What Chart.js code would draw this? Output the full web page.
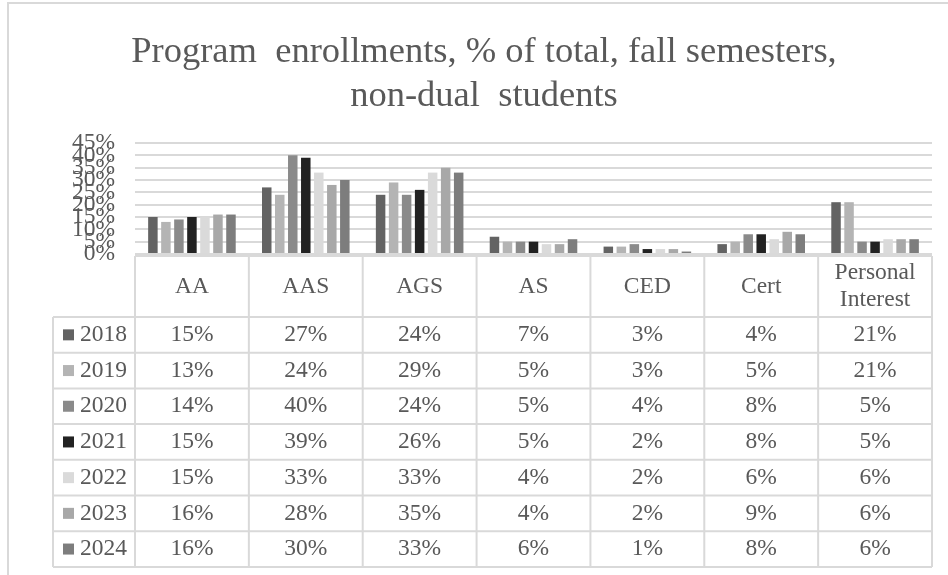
<!DOCTYPE html>
<html>
<head>
<meta charset="utf-8">
<script src="https://cdn.jsdelivr.net/npm/chart.js@4.4.0/dist/chart.umd.min.js"></script>
<style>
  html, body { margin: 0; padding: 0; background: #fff; }
  #wrap { width: 948px; height: 575px; position: relative; }
</style>
</head>
<body>
<div id="wrap"><canvas id="enrollChart"></canvas></div>
<script>
// categories and one array per fall semester (% of total)
var categories = ['AA', 'AAS', 'AGS', 'AS', 'CED', 'Cert', ['Personal', 'Interest']];
var years = ['2018', '2019', '2020', '2021', '2022', '2023', '2024'];
var y2018 = [15, 27, 24, 7, 3, 4, 21];
var y2019 = [13, 24, 29, 5, 3, 5, 21];
var y2020 = [14, 40, 24, 5, 4, 8, 5];
var y2021 = [15, 39, 26, 5, 2, 8, 5];
var y2022 = [15, 33, 33, 4, 2, 6, 6];
var y2023 = [16, 28, 35, 4, 2, 9, 6];
var y2024 = [16, 30, 33, 6, 1, 8, 6];
var yearColors = ['#636363', '#b4b4b4', '#8a8a8a', '#222222', '#dadada', '#a8a8a8', '#7d7d7d'];

var seriesData = [y2018, y2019, y2020, y2021, y2022, y2023, y2024];
var textColor = '#595959';
var lineColor = '#d9d9d9';
var serif = '"Liberation Serif", "Times New Roman", serif';

Chart.defaults.font.family = serif;
Chart.defaults.color = textColor;

// draws the frame and the data table under the plot
var dataTable = {
    id: 'dataTable',
    beforeDraw: function(chart) {
        var ctx = chart.ctx;
        ctx.save();
        ctx.fillStyle = '#fff';
        ctx.fillRect(0, 0, chart.width, chart.height);
        ctx.strokeStyle = lineColor;
        ctx.lineWidth = 2;
        ctx.strokeRect(8, 3, chart.width + 20, chart.height + 20);
        ctx.restore();
    },
    afterDraw: function(chart) {
        var ctx = chart.ctx;
        var area = chart.chartArea;
        var x = chart.scales.x;
        var colW = (area.right - area.left) / categories.length;
        var top = area.bottom + 2;
        var headH = 61, rowH = 35.7;
        var legLeft = area.left - 82;
        var bottom = top + headH + rowH * years.length;

        ctx.save();
        ctx.strokeStyle = lineColor;
        ctx.lineWidth = 2;
        ctx.beginPath();
        ctx.moveTo(area.left, top);
        ctx.lineTo(area.right, top);
        for (var r = 0; r <= years.length; r++) {
            var ly = top + headH + r * rowH;
            ctx.moveTo(legLeft, ly);
            ctx.lineTo(area.right, ly);
        }
        ctx.moveTo(legLeft, top + headH);
        ctx.lineTo(legLeft, bottom);
        for (var c = 0; c <= categories.length; c++) {
            var lx = c < categories.length ? x.getPixelForValue(c) - colW / 2 : x.getPixelForValue(c - 1) + colW / 2;
            ctx.moveTo(lx, top);
            ctx.lineTo(lx, bottom);
        }
        ctx.stroke();

        ctx.fillStyle = textColor;
        ctx.font = '23.5px ' + serif;
        ctx.textAlign = 'center';
        ctx.textBaseline = 'middle';
        categories.forEach(function(cat, i) {
            var cx = x.getPixelForValue(i);
            var lines = Array.isArray(cat) ? cat : [cat];
            var cy = top + headH / 2 - (lines.length - 1) * 13.5;
            lines.forEach(function(t, k) {
                ctx.fillText(t, cx, cy + k * 27);
            });
        });

        years.forEach(function(yr, r) {
            var cy = top + headH + r * rowH + rowH / 2;
            ctx.fillStyle = yearColors[r];
            ctx.fillRect(legLeft + 10, cy - 5.5, 11, 11);
            ctx.fillStyle = textColor;
            ctx.textAlign = 'left';
            ctx.fillText(yr, legLeft + 27, cy);
            ctx.textAlign = 'center';
            seriesData[r].forEach(function(v, i) {
                ctx.fillText(v + '%', x.getPixelForValue(i), cy);
            });
        });
        ctx.restore();
    }
};

var datasets = years.map(function(yr, i) {
    return {
        label: yr,
        data: seriesData[i],
        backgroundColor: yearColors[i],
        borderWidth: 0,
        categoryPercentage: 0.8,
        barPercentage: 0.73
    };
});

var enrollChart = new Chart(document.getElementById('enrollChart').getContext('2d'), {
    type: 'bar',
    data: {
        labels: categories,
        datasets: datasets
    },
    plugins: [dataTable],
    options: {
        responsive: true,
        maintainAspectRatio: false,
        animation: false,
        layout: {
            padding: { left: 36, right: 16, top: 0, bottom: 321 }
        },
        plugins: {
            legend: { display: false },
            tooltip: { enabled: false },
            title: {
                display: true,
                text: ['Program  enrollments, % of total, fall semesters,', 'non-dual  students'],
                color: textColor,
                font: { size: 36.5, weight: 'normal', lineHeight: 1.2055 },
                padding: { top: 30, bottom: 25 }
            }
        },
        scales: {
            x: {
                display: false
            },
            y: {
                min: 0,
                max: 45,
                afterFit: function(scale) { scale.width = 99; },
                border: { display: false },
                grid: { color: lineColor, lineWidth: 2, drawTicks: false },
                ticks: {
                    stepSize: 5,
                    autoSkip: false,
                    padding: 20,
                    color: textColor,
                    font: { size: 23.5 },
                    callback: function(v) { return v + '%'; }
                }
            }
        }
    }
});
</script>
</body>
</html>
